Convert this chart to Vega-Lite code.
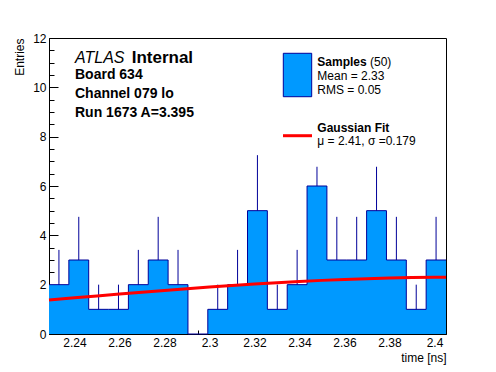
{
  "$schema": "https://vega.github.io/schema/vega-lite/v6.json",
  "width": 397,
  "height": 296,
  "autosize": {"type": "none"},
  "padding": {"left": 49, "top": 38, "right": 50, "bottom": 38},
  "background": "white",
  "config": {
    "font": "Liberation Sans",
    "view": {"stroke": "black", "strokeWidth": 1},
    "axis": {
      "domainColor": "black", "domainWidth": 1,
      "tickColor": "black", "tickWidth": 1,
      "labelColor": "black", "titleColor": "black",
      "labelFont": "Liberation Sans", "titleFont": "Liberation Sans",
      "labelFontSize": 12, "titleFontSize": 12, "titleFontWeight": "normal",
      "grid": false
    }
  },
  "resolve": {"axis": {"x": "independent", "y": "independent"}},
  "datasets": {
    "hist": [
      {"bin": 1, "x0": 2.22867, "x1": 2.23749, "t": 2.23308, "n": 2, "up": 3.41},
      {"bin": 2, "x0": 2.23749, "x1": 2.24631, "t": 2.2419, "n": 3, "up": 4.75},
      {"bin": 3, "x0": 2.24631, "x1": 2.25514, "t": 2.25073, "n": 1, "up": 2},
      {"bin": 4, "x0": 2.25514, "x1": 2.26396, "t": 2.25955, "n": 1, "up": 2},
      {"bin": 5, "x0": 2.26396, "x1": 2.27278, "t": 2.26837, "n": 2, "up": 3.41},
      {"bin": 6, "x0": 2.27278, "x1": 2.2816, "t": 2.27719, "n": 3, "up": 4.75},
      {"bin": 7, "x0": 2.2816, "x1": 2.29043, "t": 2.28601, "n": 2, "up": 3.41},
      {"bin": 8, "x0": 2.29043, "x1": 2.29925, "t": 2.29484, "n": 0, "up": 0},
      {"bin": 9, "x0": 2.29925, "x1": 2.30807, "t": 2.30366, "n": 1, "up": 2},
      {"bin": 10, "x0": 2.30807, "x1": 2.31689, "t": 2.31248, "n": 2, "up": 3.41},
      {"bin": 11, "x0": 2.31689, "x1": 2.32571, "t": 2.3213, "n": 5, "up": 7.25},
      {"bin": 12, "x0": 2.32571, "x1": 2.33454, "t": 2.33013, "n": 1, "up": 2},
      {"bin": 13, "x0": 2.33454, "x1": 2.34336, "t": 2.33895, "n": 2, "up": 3.41},
      {"bin": 14, "x0": 2.34336, "x1": 2.35218, "t": 2.34777, "n": 6, "up": 6.78},
      {"bin": 15, "x0": 2.35218, "x1": 2.361, "t": 2.35659, "n": 3, "up": 4.75},
      {"bin": 16, "x0": 2.361, "x1": 2.36983, "t": 2.36542, "n": 3, "up": 4.75},
      {"bin": 17, "x0": 2.36983, "x1": 2.37865, "t": 2.37424, "n": 5, "up": 6.78},
      {"bin": 18, "x0": 2.37865, "x1": 2.38747, "t": 2.38306, "n": 3, "up": 4.75},
      {"bin": 19, "x0": 2.38747, "x1": 2.39629, "t": 2.39188, "n": 1, "up": 2},
      {"bin": 20, "x0": 2.39629, "x1": 2.40511, "t": 2.4007, "n": 3, "up": 4.75}
    ],
    "fit": [
      {"t": 2.22867, "f": 1.377},
      {"t": 2.24, "f": 1.465},
      {"t": 2.25, "f": 1.542},
      {"t": 2.26, "f": 1.619},
      {"t": 2.27, "f": 1.694},
      {"t": 2.28, "f": 1.767},
      {"t": 2.29, "f": 1.837},
      {"t": 2.3, "f": 1.904},
      {"t": 2.31, "f": 1.968},
      {"t": 2.32, "f": 2.027},
      {"t": 2.33, "f": 2.081},
      {"t": 2.34, "f": 2.131},
      {"t": 2.35, "f": 2.174},
      {"t": 2.36, "f": 2.212},
      {"t": 2.37, "f": 2.243},
      {"t": 2.38, "f": 2.268},
      {"t": 2.39, "f": 2.286},
      {"t": 2.4, "f": 2.296},
      {"t": 2.40511, "f": 2.299}
    ],
    "one": [{}]
  },
  "layer": [
    {
      "data": {"name": "hist"},
      "transform": [{"fold": ["x0", "x1"], "as": ["edge", "te"]}],
      "mark": {"type": "area", "color": "#0099ff", "opacity": 1},
      "encoding": {
        "x": {
          "field": "te", "type": "quantitative",
          "scale": {"domain": [2.22867, 2.40511], "nice": false, "zero": false},
          "axis": {
            "orient": "bottom",
            "values": [2.24, 2.26, 2.28, 2.3, 2.32, 2.34, 2.36, 2.38, 2.4],
            "format": "~g",
            "tickSize": -9,
            "labelPadding": 12,
            "labelFlush": false,
            "labelOverlap": false,
            "title": "time [ns]",
            "titleX": 397, "titleY": 27, "titleAlign": "right", "titleBaseline": "alphabetic", "titleAnchor": null
          }
        },
        "y": {
          "field": "n", "type": "quantitative", "stack": null,
          "scale": {"domain": [0, 12], "nice": false},
          "axis": {
            "orient": "left",
            "values": [0, 2, 4, 6, 8, 10, 12],
            "format": "d",
            "tickSize": -9,
            "labelPadding": 12,
            "labelFlush": false,
            "labelOverlap": false,
            "title": "Entries",
            "titleX": -30, "titleY": 0, "titleAngle": -90, "titleAlign": "right", "titleBaseline": "middle", "titleAnchor": null
          }
        },
        "order": [{"field": "bin", "type": "quantitative"}, {"field": "edge", "type": "ordinal"}]
      }
    },
    {
      "data": {"name": "hist"},
      "transform": [{"fold": ["x0", "x1"], "as": ["edge", "te"]}],
      "mark": {"type": "line", "color": "#000099", "strokeWidth": 1},
      "encoding": {
        "x": {
          "field": "te", "type": "quantitative",
          "axis": {
            "orient": "bottom",
            "values": [2.23, 2.235, 2.245, 2.25, 2.255, 2.265, 2.27, 2.275, 2.285, 2.29, 2.295, 2.305, 2.31, 2.315, 2.325, 2.33, 2.335, 2.345, 2.35, 2.355, 2.365, 2.37, 2.375, 2.385, 2.39, 2.395, 2.405],
            "tickSize": -4,
            "labels": false,
            "domain": false,
            "title": null
          }
        },
        "y": {
          "field": "n", "type": "quantitative",
          "axis": {
            "orient": "left",
            "values": [0.5, 1, 1.5, 2.5, 3, 3.5, 4.5, 5, 5.5, 6.5, 7, 7.5, 8.5, 9, 9.5, 10.5, 11, 11.5],
            "tickSize": -5,
            "labels": false,
            "domain": false,
            "title": null
          }
        },
        "order": [{"field": "bin", "type": "quantitative"}, {"field": "edge", "type": "ordinal"}]
      }
    },
    {
      "data": {"name": "hist"},
      "mark": {"type": "rule", "color": "#000099", "strokeWidth": 1},
      "encoding": {
        "x": {"field": "t", "type": "quantitative", "axis": null},
        "y": {"field": "n", "type": "quantitative", "axis": null},
        "y2": {"field": "up"}
      }
    },
    {
      "data": {"name": "fit"},
      "mark": {"type": "line", "color": "#ff0000", "strokeWidth": 3},
      "encoding": {
        "x": {"field": "t", "type": "quantitative", "axis": null},
        "y": {"field": "f", "type": "quantitative", "axis": null}
      }
    },
    {
      "data": {"name": "one"},
      "mark": {"type": "text", "text": "ATLAS", "fontStyle": "italic", "fontSize": 16, "align": "left", "baseline": "alphabetic", "color": "black"},
      "encoding": {"x": {"datum": 2.24022, "type": "quantitative", "axis": null}, "y": {"datum": 10.975, "type": "quantitative", "axis": null}}
    },
    {
      "data": {"name": "one"},
      "mark": {"type": "text", "text": "Internal", "fontWeight": "bold", "fontSize": 17, "align": "left", "baseline": "alphabetic", "color": "black"},
      "encoding": {"x": {"datum": 2.26542, "type": "quantitative", "axis": null}, "y": {"datum": 10.975, "type": "quantitative", "axis": null}}
    },
    {
      "data": {"name": "one"},
      "mark": {"type": "text", "text": "Board 634", "fontWeight": "bold", "fontSize": 14, "align": "left", "baseline": "alphabetic", "color": "black"},
      "encoding": {"x": {"datum": 2.24022, "type": "quantitative", "axis": null}, "y": {"datum": 10.338, "type": "quantitative", "axis": null}}
    },
    {
      "data": {"name": "one"},
      "mark": {"type": "text", "text": "Channel 079 lo", "fontWeight": "bold", "fontSize": 14, "align": "left", "baseline": "alphabetic", "color": "black"},
      "encoding": {"x": {"datum": 2.24022, "type": "quantitative", "axis": null}, "y": {"datum": 9.555, "type": "quantitative", "axis": null}}
    },
    {
      "data": {"name": "one"},
      "mark": {"type": "text", "text": "Run 1673 A=3.395", "fontWeight": "bold", "fontSize": 14, "align": "left", "baseline": "alphabetic", "color": "black"},
      "encoding": {"x": {"datum": 2.24022, "type": "quantitative", "axis": null}, "y": {"datum": 8.785, "type": "quantitative", "axis": null}}
    },
    {
      "data": {"name": "one"},
      "mark": {"type": "rect", "fill": "#0099ff", "stroke": "#000099", "strokeWidth": 1},
      "encoding": {
        "x": {"datum": 2.3328, "type": "quantitative", "axis": null}, "x2": {"datum": 2.34542},
        "y": {"datum": 9.62, "type": "quantitative", "axis": null}, "y2": {"datum": 11.38}
      }
    },
    {
      "data": {"name": "one"},
      "mark": {"type": "text", "text": "Samples", "fontWeight": "bold", "fontSize": 12, "align": "left", "baseline": "alphabetic", "color": "black"},
      "encoding": {"x": {"datum": 2.34791, "type": "quantitative", "axis": null}, "y": {"datum": 10.877, "type": "quantitative", "axis": null}}
    },
    {
      "data": {"name": "one"},
      "mark": {"type": "text", "text": "(50)", "fontSize": 12, "align": "left", "baseline": "alphabetic", "color": "black"},
      "encoding": {"x": {"datum": 2.37133, "type": "quantitative", "axis": null}, "y": {"datum": 10.877, "type": "quantitative", "axis": null}}
    },
    {
      "data": {"name": "one"},
      "mark": {"type": "text", "text": "Mean = 2.33", "fontSize": 12, "align": "left", "baseline": "alphabetic", "color": "black"},
      "encoding": {"x": {"datum": 2.34791, "type": "quantitative", "axis": null}, "y": {"datum": 10.297, "type": "quantitative", "axis": null}}
    },
    {
      "data": {"name": "one"},
      "mark": {"type": "text", "text": "RMS = 0.05", "fontSize": 12, "align": "left", "baseline": "alphabetic", "color": "black"},
      "encoding": {"x": {"datum": 2.34791, "type": "quantitative", "axis": null}, "y": {"datum": 9.73, "type": "quantitative", "axis": null}}
    },
    {
      "data": {"name": "one"},
      "mark": {"type": "rule", "color": "#ff0000", "strokeWidth": 3},
      "encoding": {
        "x": {"datum": 2.33267, "type": "quantitative", "axis": null}, "x2": {"datum": 2.34556},
        "y": {"datum": 8.039, "type": "quantitative", "axis": null}
      }
    },
    {
      "data": {"name": "one"},
      "mark": {"type": "text", "text": "Gaussian Fit", "fontWeight": "bold", "fontSize": 12, "align": "left", "baseline": "alphabetic", "color": "black"},
      "encoding": {"x": {"datum": 2.34791, "type": "quantitative", "axis": null}, "y": {"datum": 8.177, "type": "quantitative", "axis": null}}
    },
    {
      "data": {"name": "one"},
      "mark": {"type": "text", "text": "μ = 2.41, σ =0.179", "fontSize": 12, "align": "left", "baseline": "alphabetic", "color": "black"},
      "encoding": {"x": {"datum": 2.34791, "type": "quantitative", "axis": null}, "y": {"datum": 7.662, "type": "quantitative", "axis": null}}
    }
  ]
}
